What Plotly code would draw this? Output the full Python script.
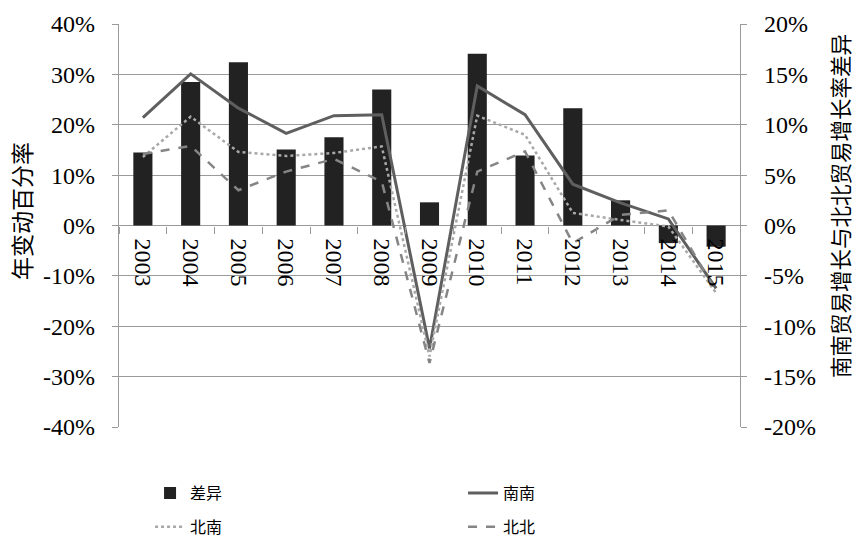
import plotly.graph_objects as go

years = ["2003", "2004", "2005", "2006", "2007", "2008", "2009",
         "2010", "2011", "2012", "2013", "2014", "2015"]
# 差异 (right axis, %)
diff = [7.25, 14.25, 16.2, 7.55, 8.75, 13.5, 2.3, 17.05, 6.95, 11.65, 2.5, -1.75, -2.1]
# left axis, %
nan_nan = [21.4, 30.1, 23.3, 18.3, 21.8, 22.0, -24.4, 27.7, 22.0, 8.2, 4.5, 1.3, -12.5]
bei_nan = [13.6, 21.6, 14.6, 13.8, 14.4, 15.7, -26.0, 21.8, 18.0, 2.5, 1.1, -0.2, -13.4]
bei_bei = [14.2, 15.8, 7.0, 10.7, 13.2, 8.7, -27.3, 10.7, 14.7, -3.5, 2.1, 3.0, -13.1]

left_ticks = [-40, -30, -20, -10, 0, 10, 20, 30, 40]
right_ticks = [-20, -15, -10, -5, 0, 5, 10, 15, 20]

CJK = "Noto Sans CJK SC"
SERIF = "Liberation Serif"
AX = "#9a9a9a"

fig = go.Figure()
fig.add_trace(go.Bar(x=years, y=diff, name="差异", yaxis="y",
                     marker=dict(color="#222222", line=dict(width=0)),
                     legend="legend"))
fig.add_trace(go.Scatter(x=years, y=nan_nan, name="南南", yaxis="y2", mode="lines",
                         line=dict(color="#5f5f5f", width=3), legend="legend2"))
fig.add_trace(go.Scatter(x=years, y=bei_nan, name="北南", yaxis="y2", mode="lines",
                         line=dict(color="#a8a8a8", width=2.5, dash="dot"), legend="legend3"))
fig.add_trace(go.Scatter(x=years, y=bei_bei, name="北北", yaxis="y2", mode="lines",
                         line=dict(color="#858585", width=2.5, dash="dash"), legend="legend4"))

def leg(x, y):
    return dict(orientation="h", x=x, xanchor="left", y=y, yanchor="middle",
                font=dict(family=CJK, size=16, color="black"),
                bgcolor="rgba(0,0,0,0)")

tickfont = dict(family=SERIF, size=24, color="black")

fig.update_layout(
    width=854, height=540,
    showlegend=True,
    margin=dict(l=119, r=114, t=24, b=113, autoexpand=False),
    paper_bgcolor="white", plot_bgcolor="white",
    bargap=0.6,
    font=dict(family=SERIF, size=24, color="black"),
    xaxis=dict(
        type="category", anchor="free", position=0.5,
        tickangle=90, ticks="outside", tickson="boundaries", ticklen=7,
        tickcolor=AX, tickwidth=1.3, showline=False, showgrid=False,
        ticklabelstandoff=12, tickfont=tickfont,
    ),
    yaxis=dict(
        side="right", range=[-20, 20], tickvals=right_ticks,
        ticktext=[f"{v}%" for v in right_ticks],
        showgrid=False, zeroline=False, showline=True, linecolor=AX, linewidth=1.3,
        ticks="outside", ticklen=6, tickcolor=AX, tickwidth=1.3,
        ticklabelstandoff=12, tickfont=tickfont,
    ),
    yaxis2=dict(
        overlaying="y", side="left", range=[-40, 40], tickvals=left_ticks,
        ticktext=[f"{v}%" for v in left_ticks],
        showgrid=True, gridcolor=AX, gridwidth=1.3, zeroline=False,
        showline=True, linecolor=AX, linewidth=1.3,
        ticks="outside", ticklen=6, tickcolor=AX, tickwidth=1.3,
        ticklabelstandoff=12, tickfont=tickfont,
    ),
    legend=leg(0.050, -0.164),
    legend2=leg(0.554, -0.164),
    legend3=leg(0.050, -0.248),
    legend4=leg(0.554, -0.248),
    annotations=[
        dict(text="年变动百分率", xref="paper", yref="paper", x=(21 - 119) / 621,
             y=(427 - 211) / 403, textangle=-90, showarrow=False,
             xanchor="center", yanchor="middle",
             font=dict(family=CJK, size=23, color="black")),
        dict(text="南南贸易增长与北北贸易增长率差异", xref="paper", yref="paper",
             x=(839 - 119) / 621, y=(427 - 206) / 403, textangle=-90, showarrow=False,
             xanchor="center", yanchor="middle",
             font=dict(family=CJK, size=21.5, color="black")),
    ],
)

fig.write_html("out.html", config={"displayModeBar": False},
               post_script="document.body.style.margin='0';")
